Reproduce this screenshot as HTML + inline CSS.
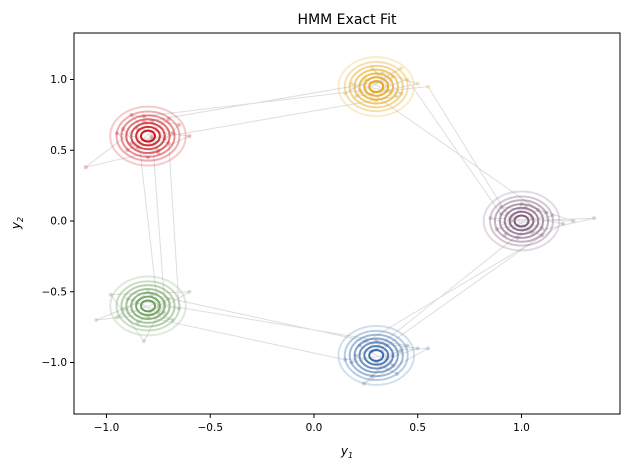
<!DOCTYPE html>
<html><head><meta charset="utf-8">
<style>
body{margin:0;background:#fff;font-family:"Liberation Sans","DejaVu Sans",sans-serif;}
svg text{font-family:"DejaVu Sans","Liberation Sans",sans-serif;}
</style></head>
<body>
<svg id="chart" width="630" height="470" viewBox="0 0 630 470" xmlns="http://www.w3.org/2000/svg">
<text x="347" y="24" font-size="14" text-anchor="middle">HMM Exact Fit</text>
<g id="plot"></g>
<rect x="74" y="33" width="546" height="381" fill="none" stroke="#000" stroke-width="1"/>
<g id="xt"></g>
<g id="yt"></g>
<text x="347" y="455" font-size="12" text-anchor="middle" font-style="italic">y<tspan font-size="8" dy="3">1</tspan></text>
<text transform="translate(20,223) rotate(-90)" font-size="12" text-anchor="middle" font-style="italic">y<tspan font-size="8" dy="3">2</tspan></text>
</svg>
<script>
const xTicks=[-1.0,-0.5,0.0,0.5,1.0];
const yTicks=[-1.0,-0.5,0.0,0.5,1.0];
const xTickLabels=["\u22121.0","\u22120.5","0.0","0.5","1.0"];
const yTickLabels=["\u22121.0","\u22120.5","0.0","0.5","1.0"];
const stateNames=["red","orange","purple","blue","green"];
const stateMeansX=[-0.8,0.3,1.0,0.3,-0.8];
const stateMeansY=[0.6,0.95,0.0,-0.95,-0.6];
const stateColors=["#d0141c","#e8a71c","#7f5b7c","#3a6cae","#6a9e58"];
const contourLevels=[1,1.7,2.4,3.1,3.8,4.5,5.4];
const stateSigma=0.0337;
const sampleX=[-0.92,-0.85,-0.72,-0.78,-0.68,-0.88,-0.75,-0.82, 0.22,0.38,0.30,0.18,0.42,0.28,0.35,0.45, 0.9,1.1,1.02,0.88,1.15,0.98,1.05,1.2, 0.22,0.38,0.3,0.18,0.42,0.28,0.35,0.45, -0.9,-0.72,-0.8,-0.95,-0.7,-0.85,-0.75,-0.65,
 -0.7,-0.95,-0.8,-0.65,-0.88,-0.78, 0.4,0.25,0.15,0.33,0.5,0.28, 1.08,0.92,1.0,1.25,0.85,1.1, 0.35,0.2,0.4,0.3,0.5,0.25, -0.78,-0.92,-0.68,-0.85,-1.05,-0.75,
 -0.85,-0.6,-0.75,-1.1,-0.82, 0.3,0.42,0.2,0.36,0.55, 0.95,1.35,1.05,0.9,1.12, 0.28,0.55,0.24,0.38,0.15, -0.8,-0.6,-0.98,-0.82,-0.72, -0.78,-0.9,-0.7];
const sampleY=[0.65,0.52,0.58,0.70,0.62,0.55,0.48,0.74, 0.92,1.02,0.85,0.97,0.9,1.08,0.95,1.0, 0.05,-0.05,0.1,-0.06,0.04,-0.12,0.02,-0.02, -0.88,-1.02,-0.85,-1.0,-0.92,-1.1,-0.97,-0.88, -0.55,-0.65,-0.5,-0.68,-0.55,-0.72,-0.6,-0.62,
 0.55,0.62,0.45,0.68,0.75,0.58, 0.88,1.0,0.9,1.05,0.97,0.9, 0.08,-0.1,0.12,0.0,0.02,-0.1, -0.88,-0.95,-1.08,-1.0,-0.9,-0.85, -0.52,-0.62,-0.7,-0.58,-0.7,-0.65,
 0.65,0.6,0.5,0.38,0.7, 0.98,1.08,0.88,0.92,0.95, 0.0,0.02,-0.08,0.1,0.06, -0.92,-0.9,-1.15,-0.95,-0.98, -0.68,-0.5,-0.52,-0.85,-0.58, 0.6,0.5,0.72];
const sampleState=[0,0,0,0,0,0,0,0,1,1,1,1,1,1,1,1,2,2,2,2,2,2,2,2,3,3,3,3,3,3,3,3,4,4,4,4,4,4,4,4,
 0,0,0,0,0,0,1,1,1,1,1,1,2,2,2,2,2,2,3,3,3,3,3,3,4,4,4,4,4,4,
 0,0,0,0,0,1,1,1,1,1,2,2,2,2,2,3,3,3,3,3,4,4,4,4,4,0,0,0];

const L=74,R=620,T=33,B=414,x0=314,xs=207.5,y0=221,ys=141.5;
const X=v=>x0+v*xs, Y=v=>y0-v*ys;
const NS="http://www.w3.org/2000/svg";
function mk(tag,attrs,parent){const e=document.createElementNS(NS,tag);for(const k in attrs)e.setAttribute(k,attrs[k]);parent.appendChild(e);return e;}
const svg=document.getElementById('chart');
const defs=mk('defs',{},svg);
const cp=mk('clipPath',{id:'clip'},defs);mk('rect',{x:L,y:T,width:R-L,height:B-T},cp);
const plot=document.getElementById('plot');plot.setAttribute('clip-path','url(#clip)');
let d='';
for(let i=0;i<sampleX.length;i++){d+=(i?'L':'M')+X(sampleX[i]).toFixed(1)+' '+Y(sampleY[i]).toFixed(1);}
const path=mk('path',{d:d,fill:'none',stroke:'#c8c8c8','stroke-opacity':'0.6','stroke-width':'1'},plot);


for(let i=0;i<sampleX.length;i++){
  const c=mk('circle',{cx:X(sampleX[i]),cy:Y(sampleY[i]),r:2,fill:stateColors[sampleState[i]],'fill-opacity':'0.25'},plot);
  
  
}
for(let s=0;s<stateNames.length;s++){
  const g=mk('g',{},plot);
  
  
  for(let k=contourLevels.length-1;k>=0;k--){
    const lv=contourLevels[k];
    const e=mk('ellipse',{cx:X(stateMeansX[s]),cy:Y(stateMeansY[s]),rx:lv*stateSigma*xs,ry:lv*stateSigma*xs*0.78,fill:'none',stroke:stateColors[s],'stroke-width':'2','stroke-opacity':(1-k*0.13).toFixed(2)},g);
    
    
  }
}
const xt=document.getElementById('xt'),yt=document.getElementById('yt');
xTicks.forEach((v,i)=>{
  const l=mk('line',{x1:X(v),x2:X(v),y1:B,y2:B+4,stroke:'#000'},xt);
  
  const t=mk('text',{x:X(v),y:B+17,'font-size':'10.5','text-anchor':'middle'},xt);t.textContent=xTickLabels[i];
  
});
yTicks.forEach((v,i)=>{
  const l=mk('line',{x1:L-4,x2:L,y1:Y(v),y2:Y(v),stroke:'#000'},yt);
  
  const t=mk('text',{x:L-7,y:Y(v)+3.5,'font-size':'10.5','text-anchor':'end'},yt);t.textContent=yTickLabels[i];
  
});
</script>
</body></html>
